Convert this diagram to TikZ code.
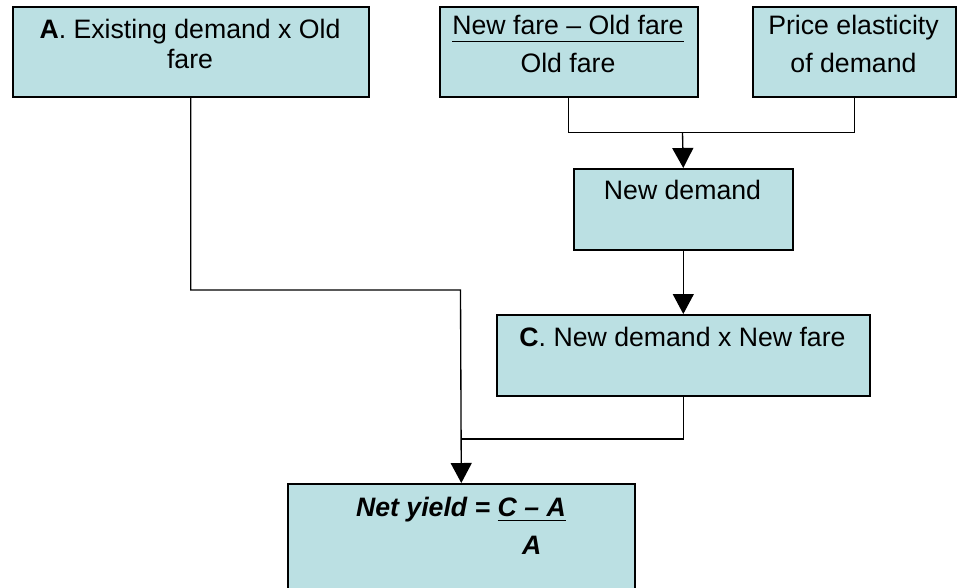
\documentclass[tikz,border=0pt]{standalone}
\usepackage{fontspec}
\setmainfont{Liberation Sans}
\usetikzlibrary{arrows.meta}
\definecolor{boxfill}{RGB}{187,224,227}
% underline set at a given depth below the baseline
\newcommand{\ulbar}[2]{\setbox0\hbox{#2}\rlap{\raisebox{-#1}{\rule{\wd0}{0.9pt}}}\box0}

\tikzset{
  box/.style={draw, line width=1.2pt, fill=boxfill, anchor=north west, inner sep=0pt},
  txt/.style={inner sep=0.75pt, align=center, font=\fontsize{20}{22.5}\selectfont},
  txtwide/.style={txt, font=\fontsize{20}{28.5}\selectfont},
  link/.style={line width=1pt},
  arr/.style={link, -{Triangle[length=15pt,width=15.75pt]}}
}

\begin{document}
\begin{tikzpicture}[x=0.75pt,y=0.75pt,yscale=-1,xscale=1]
    \useasboundingbox (0,0) rectangle (958,587);
    \clip (0,0) rectangle (958,587);

    %Shape: Rectangle [id:A]
    \draw (12,6) node [box, minimum width=267pt, minimum height=67.5pt] (A) {};
    %Shape: Rectangle [id:frac]
    \draw (439,6) node [box, minimum width=193.5pt, minimum height=67.5pt] (frac) {};
    %Shape: Rectangle [id:price]
    \draw (752,6) node [box, minimum width=152.25pt, minimum height=67.5pt] (price) {};
    %Shape: Rectangle [id:newd]
    \draw (573,168) node [box, minimum width=164.25pt, minimum height=60.75pt] (newd) {};
    %Shape: Rectangle [id:C]
    \draw (496,314) node [box, minimum width=279.75pt, minimum height=60.75pt] (C) {};
    %Shape: Rectangle [id:net]
    \draw (287,483) node [box, minimum width=260.25pt, minimum height=84pt] (net) {};

    %Connectors
    \coordinate (fork) at (682.5,132.5);
    \coordinate (knee) at (460.5,290);
    \coordinate (merge) at (460.5,439);
    \draw [link] (frac.south) |- (fork) -| (price.south);
    \draw [arr] (fork) -- (newd.north);
    \draw [arr] (newd.south) -- (C.north);
    \draw [arr] (A.south) |- (knee) -- (net.north);
    \draw [link] (C.south) |- (merge);

    % Text Node
    \draw (190,44) node [txt] (Atext) {\textbf{A}. Existing demand x Old\\fare};
    % Text Node
    \draw (568,44) node [txtwide] (fractext) {\ulbar{5.5pt}{New fare – Old fare}\\Old fare};
    % Text Node
    \draw (853.5,44) node [txtwide] (pricetext) {Price elasticity\\of demand};
    % Text Node
    \draw (682.5,190) node [txt] (newdtext) {New demand};
    % Text Node
    \draw (682.5,337) node [txt] (Ctext) {\textbf{C}. New demand x New fare};
    % Text Node
    \draw (461,528) node [txtwide] (nettext) {\bfseries\itshape
      \begin{tabular}{@{}r@{\ }c@{}}
        Net yield = & \ulbar{3.5pt}{C – A}\\
                    & A
      \end{tabular}};

\end{tikzpicture}
\end{document}
